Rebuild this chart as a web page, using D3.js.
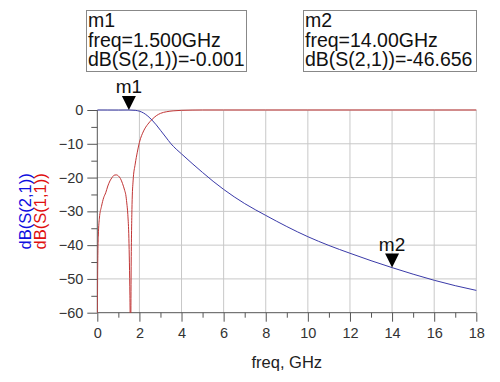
<!DOCTYPE html>
<html><head><meta charset="utf-8">
<script src="https://cdn.jsdelivr.net/npm/d3@7"></script>
<style>body{margin:0;background:#fff}svg{display:block;font-family:"Liberation Sans",Arial,sans-serif}</style>
</head><body><svg id="c" width="500" height="382"></svg>
<script>
// S21 (GHz, dB)
const s21Freq = [0,0.5,1.0,1.5,1.8,2.0,2.2,2.4,2.6,2.8,3.0,3.25,3.5,3.75,4.0,4.5,5.0,5.5,6.0,6.5,7.0,7.5,8.0,9,10,11,12,13,14,15,16,17,18];
const s21dB   = [0,-0.01,-0.02,-0.001,-0.1,-0.35,-0.9,-1.8,-3.0,-4.4,-6.0,-8.0,-10.0,-11.6,-13.0,-15.8,-18.5,-21.1,-23.5,-25.7,-27.7,-29.5,-31.2,-34.5,-37.5,-40.1,-42.4,-44.6,-46.656,-48.6,-50.4,-52.0,-53.4];
// S11 (GHz, dB)
const s11Freq = [0,0.01,0.02,0.05,0.1,0.2,0.3,0.4,0.5,0.6,0.7,0.8,0.9,1.0,1.1,1.2,1.3,1.35,1.4,1.45,1.5,1.55,1.58,1.61,1.65,1.7,1.8,1.9,2.0,2.2,2.4,2.6,2.8,3.0,3.3,3.6,4.0,4.5,5,6,8,10,12,14,16,18];
const s11dB   = [-75,-55,-46,-37,-32,-28.5,-26,-24.5,-22.5,-21,-20,-19.3,-19.2,-19.5,-20.3,-21.8,-23.8,-25,-27.5,-31,-38,-55,-70,-45,-28,-21,-16,-12.5,-9.6,-6.2,-4.2,-2.8,-1.7,-1.0,-0.5,-0.25,-0.1,-0.03,0,0,0,0,0,0,0,0];
const xTicks = [0,2,4,6,8,10,12,14,16,18];
const xMinor = [1,3,5,7,9,11,13,15,17];
const yTicks = [0,-10,-20,-30,-40,-50,-60];
const yMinor = [-5,-15,-25,-35,-45,-55];
const markers = [
  {name:"m1", f:1.5, v:-0.001, lines:["m1","freq=1.500GHz","dB(S(2,1))=-0.001"]},
  {name:"m2", f:14.0, v:-46.656, lines:["m2","freq=14.00GHz","dB(S(2,1))=-46.656"]}
];
const boxes = [{left:86,top:10,right:246,bottom:71},{left:303,top:10,right:476,bottom:71}];

const svg = d3.select("#c");
const x = d3.scaleLinear().domain([0,18]).range([97.3,476.3]);
const y = d3.scaleLinear().domain([-60,0]).range([312.7,110]);

// grid
const g = svg.append("g");
g.selectAll("line.gx").data(xTicks.slice(1)).join("line")
  .attr("x1",d=>x(d)).attr("x2",d=>x(d)).attr("y1",y(0)).attr("y2",y(-60))
  .attr("stroke","#c8c8c8").attr("stroke-width",1);
g.selectAll("line.gy").data(yTicks.slice(0,-1)).join("line")
  .attr("x1",x(0)).attr("x2",x(18)).attr("y1",d=>y(d)).attr("y2",d=>y(d))
  .attr("stroke","#c8c8c8").attr("stroke-width",1);

// axes
const xAxis = d3.axisBottom(x).tickValues(xTicks).tickSize(9).tickPadding(6).tickFormat(d3.format("d"));
const xa = svg.append("g").attr("transform",`translate(0,${y(-60)})`).call(xAxis);
const xAxisMinor = d3.axisBottom(x).tickValues(xMinor).tickSize(5).tickFormat("");
svg.append("g").attr("transform",`translate(0,${y(-60)})`).call(xAxisMinor).select(".domain").remove();
const yAxis = d3.axisLeft(y).tickValues(yTicks).tickSize(10).tickPadding(4).tickFormat(d3.format("d"));
const ya = svg.append("g").attr("transform",`translate(${x(0)},0)`).call(yAxis);
const yAxisMinor = d3.axisLeft(y).tickValues(yMinor).tickSize(6).tickFormat("");
svg.append("g").attr("transform",`translate(${x(0)},0)`).call(yAxisMinor).select(".domain").remove();
svg.selectAll(".domain").attr("stroke","#555");
svg.selectAll(".tick line").attr("stroke","#555");
svg.selectAll(".tick text").attr("fill","#333").attr("font-size","14.5px").attr("font-family","Liberation Sans, Arial, sans-serif");
xa.selectAll(".domain").attr("d",`M${x(0)},0H${x(18)}`);
ya.selectAll(".domain").attr("d",`M0,${y(0)}V${y(-60)}`);

// clip
svg.append("clipPath").attr("id","clip").append("rect")
  .attr("x",x(0)).attr("y",y(0)-2).attr("width",x(18)-x(0)+1).attr("height",y(-60)-y(0)+2);

const line = d3.line().x(d=>x(d[0])).y(d=>y(d[1])).curve(d3.curveMonotoneX);
const s11 = s11Freq.map((f,i)=>[f,s11dB[i]]);
const s21 = s21Freq.map((f,i)=>[f,s21dB[i]]);
svg.append("path").attr("clip-path","url(#clip)").attr("d",line(s11))
  .attr("fill","none").attr("stroke","#c03535").attr("stroke-width",1);
svg.append("path").attr("clip-path","url(#clip)").attr("d",line(s21))
  .attr("fill","none").attr("stroke","#3a3aa8").attr("stroke-width",1);

// markers
markers.forEach(m=>{
  const px = x(m.f), py = y(m.v);
  svg.append("path").attr("d",`M${px},${py}L${px-7},${py-14}L${px+7},${py-14}Z`).attr("fill","#000");
  svg.append("text").attr("x",px).attr("y",py-17).attr("text-anchor","middle")
    .attr("font-size","19px").attr("fill","#111").text(m.name);
});

// marker boxes
markers.forEach((m,i)=>{
  const b = boxes[i];
  svg.append("rect").attr("x",b.left+0.5).attr("y",b.top+0.5).attr("width",b.right-b.left).attr("height",b.bottom-b.top)
    .attr("fill","#fff").attr("stroke","#888");
  m.lines.forEach((t,j)=>{
    svg.append("text").attr("x",b.left+2).attr("y",b.top+17+j*19.5)
      .attr("font-size","19.5px").attr("fill","#111").text(t);
  });
});

// axis titles
svg.append("text").attr("x",x(9)).attr("y",368).attr("text-anchor","middle")
  .attr("font-size","16.5px").attr("fill","#222").text("freq, GHz");
const yc = (y(0)+y(-60))/2;
svg.append("text").attr("transform",`translate(31,${yc}) rotate(-90)`).attr("text-anchor","middle")
  .attr("font-size","16.5px").attr("fill","#1010e0").text("dB(S(2,1))");
svg.append("text").attr("transform",`translate(46,${yc}) rotate(-90)`).attr("text-anchor","middle")
  .attr("font-size","16.5px").attr("fill","#e01010").text("dB(S(1,1))");
</script></body></html>
